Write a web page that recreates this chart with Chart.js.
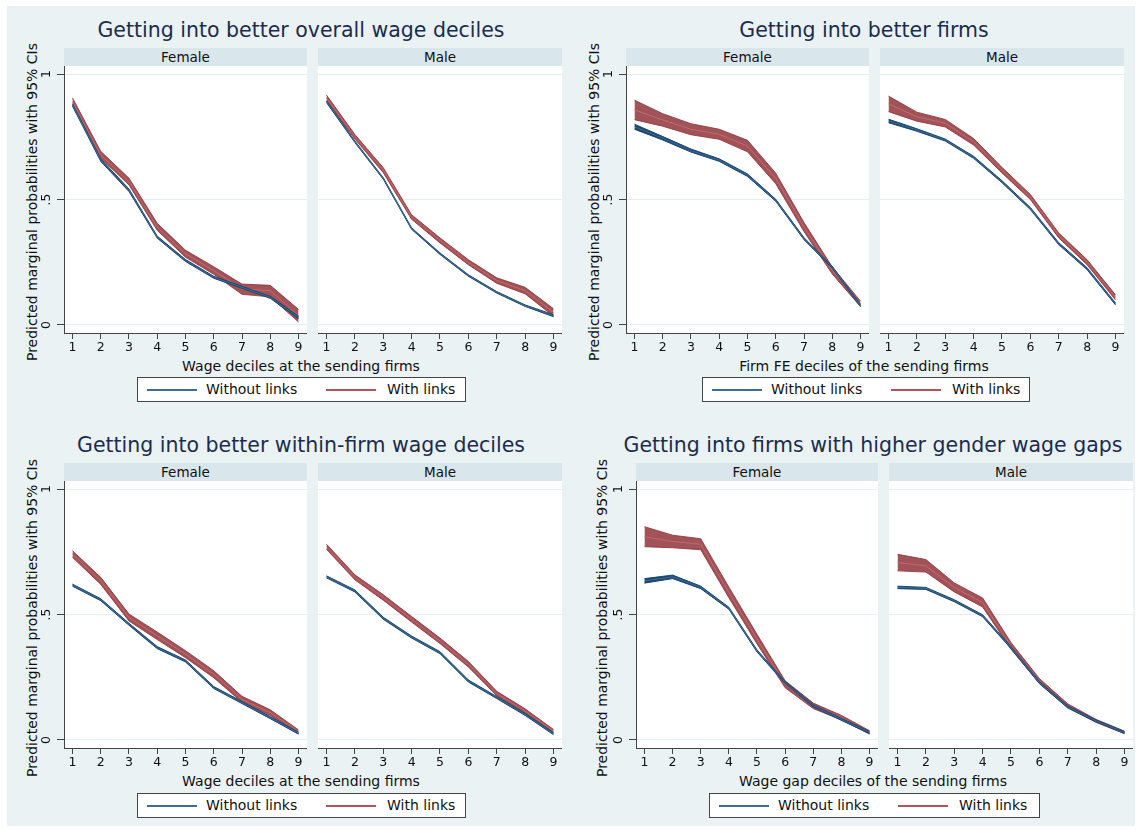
<!DOCTYPE html>
<html>
<head>
<meta charset="utf-8">
<script src="https://cdn.jsdelivr.net/npm/chart.js@4/dist/chart.umd.min.js"></script>
<style>
  html, body { margin: 0; padding: 0; background: #fff; }
  body { width: 1141px; height: 830px; position: relative; overflow: hidden; font-family: 'DejaVu Sans', sans-serif; }
  #page { position: absolute; left: 7px; top: 6px; width: 1128px; height: 820px; background: #eaf2f3; }
  .abs { position: absolute; }
  .title { font-size: 20.5px; line-height: 24px; color: #1c2c4e; text-align: center; white-space: nowrap; }
  .strip { background: #d9e6eb; font-size: 13.5px; line-height: 18px; color: #111; text-align: center; }
  .ytitle { font-size: 14px; color: #111; white-space: nowrap; transform: translate(-50%, -50%) rotate(-90deg); }
  .xtitle { font-size: 14px; line-height: 18px; color: #111; text-align: center; white-space: nowrap; }
  .legend { background: #fff; border: 1px solid #444; box-sizing: border-box; font-size: 14px; color: #111; }
  .legend .ln { position: absolute; top: 11px; height: 2px; width: 50px; }
  .legend .tx { position: absolute; top: 2px; line-height: 19px; white-space: nowrap; }
</style>
</head>
<body>
<div id="page"></div>
<script>
// ─── Data ─────────────────────────────────────────────────────────
const deciles = [1, 2, 3, 4, 5, 6, 7, 8, 9];
const yTicks = [0, 0.5, 1];
const yTickLabels = ['0', '.5', '1'];
const sexes = ['Female', 'Male'];
const seriesNames = ['Without links', 'With links'];
const yTitle = 'Predicted marginal probabilities with 95% CIs';
const titles = [
    'Getting into better overall wage deciles',
    'Getting into better firms',
    'Getting into better within-firm wage deciles',
    'Getting into firms with higher gender wage gaps'
];
const xTitles = [
    'Wage deciles at the sending firms',
    'Firm FE deciles of the sending firms',
    'Wage deciles at the sending firms',
    'Wage gap deciles of the sending firms'
];

// 1. overall wage deciles
const overallFemWithout   = [0.877, 0.657, 0.537, 0.350, 0.257, 0.190, 0.150, 0.110, 0.030];
const overallFemWithoutLo = [0.872, 0.652, 0.532, 0.346, 0.253, 0.186, 0.146, 0.106, 0.025];
const overallFemWithoutHi = [0.882, 0.662, 0.542, 0.354, 0.261, 0.194, 0.154, 0.114, 0.035];
const overallFemWith      = [0.890, 0.677, 0.571, 0.390, 0.284, 0.217, 0.144, 0.137, 0.037];
const overallFemWithLo    = [0.875, 0.665, 0.558, 0.377, 0.270, 0.202, 0.122, 0.112, 0.012];
const overallFemWithHi    = [0.905, 0.692, 0.585, 0.405, 0.298, 0.232, 0.163, 0.158, 0.062];
const overallMalWithout   = [0.890, 0.730, 0.584, 0.384, 0.284, 0.197, 0.130, 0.077, 0.037];
const overallMalWithoutLo = [0.886, 0.727, 0.581, 0.381, 0.281, 0.194, 0.127, 0.074, 0.033];
const overallMalWithoutHi = [0.894, 0.733, 0.587, 0.387, 0.287, 0.200, 0.133, 0.080, 0.041];
const overallMalWith      = [0.904, 0.750, 0.617, 0.430, 0.337, 0.250, 0.177, 0.137, 0.050];
const overallMalWithLo    = [0.892, 0.741, 0.607, 0.421, 0.327, 0.240, 0.166, 0.124, 0.035];
const overallMalWithHi    = [0.916, 0.759, 0.627, 0.439, 0.347, 0.260, 0.188, 0.150, 0.065];

// 2. better firms
const firmsFemWithout   = [0.790, 0.744, 0.695, 0.657, 0.597, 0.497, 0.344, 0.230, 0.077];
const firmsFemWithoutLo = [0.780, 0.737, 0.689, 0.652, 0.592, 0.493, 0.340, 0.226, 0.073];
const firmsFemWithoutHi = [0.800, 0.751, 0.701, 0.662, 0.602, 0.501, 0.348, 0.234, 0.081];
const firmsFemWith      = [0.857, 0.817, 0.780, 0.760, 0.713, 0.584, 0.390, 0.217, 0.084];
const firmsFemWithLo    = [0.818, 0.792, 0.758, 0.740, 0.690, 0.563, 0.372, 0.203, 0.073];
const firmsFemWithHi    = [0.896, 0.842, 0.802, 0.780, 0.736, 0.605, 0.408, 0.231, 0.095];
const firmsMalWithout   = [0.813, 0.777, 0.737, 0.668, 0.571, 0.464, 0.324, 0.224, 0.084];
const firmsMalWithoutLo = [0.806, 0.772, 0.733, 0.664, 0.567, 0.460, 0.320, 0.220, 0.080];
const firmsMalWithoutHi = [0.820, 0.782, 0.741, 0.672, 0.575, 0.468, 0.328, 0.228, 0.088];
const firmsMalWith      = [0.881, 0.830, 0.804, 0.730, 0.617, 0.510, 0.357, 0.250, 0.110];
const firmsMalWithLo    = [0.850, 0.812, 0.789, 0.717, 0.606, 0.500, 0.347, 0.240, 0.100];
const firmsMalWithHi    = [0.912, 0.848, 0.819, 0.743, 0.628, 0.520, 0.367, 0.260, 0.120];

// 3. within-firm wage deciles
const withinFemWithout   = [0.617, 0.559, 0.461, 0.368, 0.315, 0.209, 0.149, 0.089, 0.027];
const withinFemWithoutLo = [0.613, 0.555, 0.457, 0.364, 0.311, 0.205, 0.145, 0.085, 0.023];
const withinFemWithoutHi = [0.621, 0.563, 0.465, 0.372, 0.319, 0.213, 0.153, 0.093, 0.031];
const withinFemWith      = [0.741, 0.634, 0.488, 0.415, 0.342, 0.262, 0.162, 0.109, 0.033];
const withinFemWithLo    = [0.728, 0.620, 0.474, 0.400, 0.328, 0.248, 0.150, 0.098, 0.026];
const withinFemWithHi    = [0.754, 0.648, 0.502, 0.430, 0.356, 0.276, 0.174, 0.120, 0.040];
const withinMalWithout   = [0.650, 0.594, 0.485, 0.410, 0.348, 0.235, 0.169, 0.102, 0.025];
const withinMalWithoutLo = [0.646, 0.590, 0.481, 0.406, 0.344, 0.231, 0.165, 0.098, 0.021];
const withinMalWithoutHi = [0.654, 0.598, 0.489, 0.414, 0.352, 0.239, 0.173, 0.106, 0.029];
const withinMalWith      = [0.770, 0.648, 0.568, 0.481, 0.395, 0.302, 0.185, 0.116, 0.036];
const withinMalWithLo    = [0.760, 0.638, 0.557, 0.470, 0.384, 0.291, 0.176, 0.108, 0.030];
const withinMalWithHi    = [0.780, 0.658, 0.579, 0.492, 0.406, 0.313, 0.194, 0.124, 0.042];

// 4. higher gender wage gaps
const gapFemWithout   = [0.634, 0.650, 0.608, 0.525, 0.355, 0.229, 0.136, 0.082, 0.030];
const gapFemWithoutLo = [0.625, 0.643, 0.603, 0.521, 0.351, 0.225, 0.132, 0.078, 0.026];
const gapFemWithoutHi = [0.643, 0.657, 0.613, 0.529, 0.359, 0.233, 0.140, 0.086, 0.034];
const gapFemWith      = [0.810, 0.791, 0.780, 0.588, 0.402, 0.222, 0.136, 0.089, 0.030];
const gapFemWithLo    = [0.770, 0.766, 0.758, 0.567, 0.383, 0.208, 0.125, 0.080, 0.023];
const gapFemWithHi    = [0.850, 0.816, 0.802, 0.609, 0.421, 0.236, 0.147, 0.098, 0.037];
const gapMalWithout   = [0.608, 0.604, 0.555, 0.495, 0.368, 0.229, 0.132, 0.076, 0.030];
const gapMalWithoutLo = [0.603, 0.600, 0.551, 0.491, 0.364, 0.225, 0.128, 0.072, 0.026];
const gapMalWithoutHi = [0.613, 0.608, 0.559, 0.499, 0.372, 0.233, 0.136, 0.080, 0.034];
const gapMalWith      = [0.707, 0.694, 0.608, 0.548, 0.375, 0.235, 0.136, 0.076, 0.030];
const gapMalWithLo    = [0.674, 0.669, 0.590, 0.530, 0.362, 0.225, 0.128, 0.070, 0.025];
const gapMalWithHi    = [0.740, 0.719, 0.626, 0.566, 0.388, 0.245, 0.144, 0.082, 0.035];

// ─── Colours ──────────────────────────────────────────────────────
const NAVY      = '#1a476f';
const NAVY_MID  = '#3d6c98';
const MAROON    = 'rgba(144,53,59,0.85)';
const MAROON_MID = '#c26a70';
const AXIS      = '#444';
const GRID      = '#e6eef1';

Chart.defaults.font.family = "'DejaVu Sans', sans-serif";

// ─── Layout of the four graphs (page coords) ──────────────────────
const quads = [
    { cx: 301, titleY: 30,  xTitleY: 366, yTitleX: 32,  yTitleY: 202, t: 66,  b: 333,
      boxes: [[64, 307], [318, 562]], legend: [137, 377, 329],
      fem: [overallFemWithout, overallFemWithoutLo, overallFemWithoutHi, overallFemWith, overallFemWithLo, overallFemWithHi],
      mal: [overallMalWithout, overallMalWithoutLo, overallMalWithoutHi, overallMalWith, overallMalWithLo, overallMalWithHi] },
    { cx: 864, titleY: 30,  xTitleY: 366, yTitleX: 594, yTitleY: 202, t: 66,  b: 333,
      boxes: [[626, 869], [880, 1124]], legend: [702, 377, 328],
      fem: [firmsFemWithout, firmsFemWithoutLo, firmsFemWithoutHi, firmsFemWith, firmsFemWithLo, firmsFemWithHi],
      mal: [firmsMalWithout, firmsMalWithoutLo, firmsMalWithoutHi, firmsMalWith, firmsMalWithLo, firmsMalWithHi] },
    { cx: 301, titleY: 445, xTitleY: 781, yTitleX: 32,  yTitleY: 618, t: 481, b: 748,
      boxes: [[64, 307], [318, 562]], legend: [137, 793, 329],
      fem: [withinFemWithout, withinFemWithoutLo, withinFemWithoutHi, withinFemWith, withinFemWithLo, withinFemWithHi],
      mal: [withinMalWithout, withinMalWithoutLo, withinMalWithoutHi, withinMalWith, withinMalWithLo, withinMalWithHi] },
    { cx: 873, titleY: 445, xTitleY: 781, yTitleX: 602, yTitleY: 618, t: 481, b: 748,
      boxes: [[636, 878], [889, 1133]], legend: [709, 793, 331],
      fem: [gapFemWithout, gapFemWithoutLo, gapFemWithoutHi, gapFemWith, gapFemWithLo, gapFemWithHi],
      mal: [gapMalWithout, gapMalWithoutLo, gapMalWithoutHi, gapMalWith, gapMalWithLo, gapMalWithHi] }
];

const body = document.body;

function addDiv(cls, css, text) {
    const d = document.createElement('div');
    d.className = 'abs ' + cls;
    d.style.cssText = css;
    if (text != null) d.textContent = text;
    body.appendChild(d);
    return d;
}

function pts(arr) {
    return deciles.map((d, i) => ({ x: d, y: arr[i] }));
}

// one facet (Female or Male) as its own Chart.js chart
function facet(l, r, t, b, showY, s) {
    const axW = showY ? 28 : 0;
    const xAxH = 22;
    const cv = document.createElement('canvas');
    cv.width = r - l + axW;
    cv.height = b - t + xAxH;
    cv.style.cssText = `position:absolute;left:${l - axW}px;top:${t}px;`;
    body.appendChild(cv);

    const plotBg = {
        id: 'plotBg',
        beforeDraw(c) {
            const a = c.chartArea, ctx = c.ctx;
            ctx.save();
            ctx.fillStyle = '#fff';
            ctx.fillRect(a.left, a.top, a.right - a.left, a.bottom - a.top);
            ctx.restore();
        }
    };
    // Stata style vertical y labels
    const yLabels = {
        id: 'yLabels',
        afterDraw(c) {
            if (!showY) return;
            const ys = c.scales.y, ctx = c.ctx;
            ctx.save();
            ctx.fillStyle = '#111';
            ctx.font = "12.5px 'DejaVu Sans'";
            ctx.textAlign = 'center';
            ctx.textBaseline = 'middle';
            yTicks.forEach((v, i) => {
                ctx.save();
                ctx.translate(c.chartArea.left - 17, ys.getPixelForValue(v));
                ctx.rotate(-Math.PI / 2);
                ctx.fillText(yTickLabels[i], 0, 0);
                ctx.restore();
            });
            ctx.restore();
        }
    };

    const line = (data, color, width, extra) => Object.assign({
        data: pts(data), borderColor: color, borderWidth: width,
        pointRadius: 0, tension: 0, fill: false
    }, extra || {});

    new Chart(cv, {
        type: 'line',
        data: {
            datasets: [
                line(s[0], NAVY_MID, 1),
                line(s[2], NAVY, 1, { fill: '+1', backgroundColor: NAVY }),
                line(s[1], NAVY, 1),
                line(s[3], MAROON_MID, 1),
                line(s[5], MAROON, 1, { fill: '+1', backgroundColor: MAROON }),
                line(s[4], MAROON, 1)
            ]
        },
        options: {
            responsive: false,
            animation: false,
            events: [],
            layout: { padding: 0, autoPadding: false },
            plugins: { legend: { display: false }, tooltip: { enabled: false } },
            scales: {
                x: {
                    type: 'linear', min: 0.7, max: 9.3,
                    afterBuildTicks: (sc) => { sc.ticks = deciles.map(v => ({ value: v })); },
                    afterFit: (sc) => { sc.height = xAxH; sc.paddingLeft = 0; sc.paddingRight = 0; },
                    grid: { drawOnChartArea: false, drawTicks: true, tickLength: 6, tickColor: AXIS },
                    border: { display: true, color: AXIS, width: 1 },
                    ticks: { color: '#111', font: { size: 12.5 }, padding: 1, autoSkip: false, maxRotation: 0 }
                },
                y: {
                    type: 'linear', min: -0.032, max: 1.032,
                    afterBuildTicks: (sc) => { sc.ticks = yTicks.map(v => ({ value: v })); },
                    afterFit: (sc) => { sc.width = axW; sc.paddingTop = 0; sc.paddingBottom = 0; },
                    grid: { color: GRID, drawTicks: showY, tickLength: 7, tickColor: AXIS },
                    border: { display: showY, color: AXIS, width: 1 },
                    ticks: { display: false }
                }
            }
        },
        plugins: [plotBg, yLabels]
    });
}

quads.forEach((q, k) => {
    addDiv('title', `left:${q.cx - 300}px;top:${q.titleY - 12}px;width:600px;`, titles[k]);
    addDiv('ytitle', `left:${q.yTitleX}px;top:${q.yTitleY}px;`, yTitle);
    q.boxes.forEach((bx, j) => {
        addDiv('strip', `left:${bx[0]}px;top:${q.t - 18}px;width:${bx[1] - bx[0]}px;height:18px;`, sexes[j]);
        facet(bx[0], bx[1], q.t, q.b, j === 0, j === 0 ? q.fem : q.mal);
    });
    addDiv('xtitle', `left:${q.cx - 250}px;top:${q.xTitleY - 9}px;width:500px;`, xTitles[k]);

    const [lx, ly, lw] = q.legend;
    const lg = addDiv('legend', `left:${lx}px;top:${ly}px;width:${lw}px;height:25px;`);
    lg.innerHTML =
        `<div class="ln" style="left:9px;background:${NAVY_MID};"></div>` +
        `<div class="tx" style="left:68px;">${seriesNames[0]}</div>` +
        `<div class="ln" style="left:188px;background:#b3545a;"></div>` +
        `<div class="tx" style="left:249px;">${seriesNames[1]}</div>`;
});
</script>
</body>
</html>
